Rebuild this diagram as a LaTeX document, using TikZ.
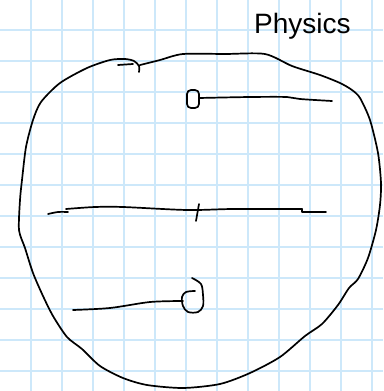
\documentclass[tikz,border=0pt]{standalone}
\usepackage{fontspec}
\setmainfont{Liberation Sans}
\usepackage{tikz}
\definecolor{gridblue}{HTML}{CDE8FA}
\tikzset{
  gridline/.style={draw=gridblue, line width=2.5pt},
  ink/.style={draw=black, line width=1.7pt, line cap=round, line join=round},
}
\begin{document}
\begin{tikzpicture}[x=1pt, y=-1pt]
  \useasboundingbox (0,0) rectangle (383,391);
  % squared paper
  \foreach \k in {1,...,12} {
    \draw[gridline] (31*\k,0) -- (31*\k,391);
    \draw[gridline] (0,31*\k-1) -- (383,31*\k-1);
  }
  % label
  \node[anchor=base west, inner sep=0pt, font=\fontsize{28}{28}\selectfont] (title) at (254,33) {Physics};
  % outline
  \draw[ink] plot[smooth, tension=0.45] coordinates {
    (140,65) (160,60) (183,54) (225,54) (265,54) (292,66) (320,75) (340,83)
    (352,90) (360,98) (370,120) (378,153) (381,183) (380,205) (376,230)
    (368,258) (358,279) (349,288) (338,305) (322,324) (305,336) (280,357)
    (250,373) (220,384) (183,388) (147,385) (123,378) (100,366) (82,349)
    (67,337) (53,316) (43,296) (33,273) (25,248) (19,230) (20,200) (22,180)
    (26,147) (33,120) (41,102) (60,83) (87,68) (110,60) (125,59) (134,61)
    (139,66) (139,72)};
  \draw[ink] (118,65) -- (133,64);
  % top bar
  \draw[ink, rounded corners=4pt] (187,90) rectangle (199,108);
  \draw[ink] plot[smooth, tension=0.5] coordinates {
    (199,98) (250,97) (287,97) (300,99) (332,101)};
  % middle bar
  \draw[ink] plot[smooth] coordinates {(48,214) (58,212) (68,212)};
  \draw[ink] plot[smooth, tension=0.5] coordinates {
    (66,209) (95,207) (123,207) (187,210) (233,209) (302,209)};
  \draw[ink] (302,209) -- (302,212) -- (326,212);
  \draw[ink] (199,204) -- (196,221);
  % bottom bar
  \draw[ink] plot[smooth, tension=0.5] coordinates {
    (73,310) (110,308) (150,302) (183,301)};
  \draw[ink] plot[smooth, tension=0.55] coordinates {
    (192,278) (201,284) (203,295) (203,306) (198,312) (188,312)
    (183,306) (182,297) (186,292) (195,291)};
\end{tikzpicture}
\end{document}
